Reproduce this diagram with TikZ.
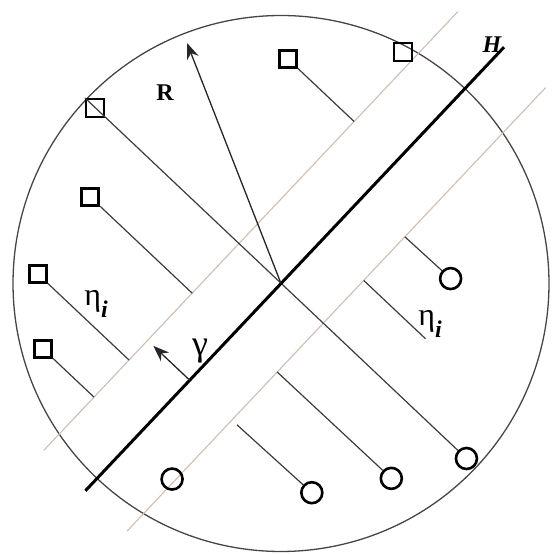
\documentclass[tikz,border=0pt]{standalone}
\usepackage{fontspec}
\setmainfont{Liberation Serif}
\usetikzlibrary{arrows.meta}
\definecolor{margin}{RGB}{210,188,175}
\definecolor{perpc}{RGB}{60,60,60}
\definecolor{rimc}{RGB}{70,70,70}
\newcommand{\subi}{\raisebox{-0.38em}{\fontsize{24}{26}\selectfont\bfseries\itshape i}}
\tikzset{
  sqbold/.style={draw=black, line width=2.8pt, shape=rectangle, minimum size=17pt, inner sep=0pt},
  sqthin/.style={draw=black, line width=1.5pt, shape=rectangle, minimum size=18pt, inner sep=0pt},
  cir/.style={draw=black, line width=2.6pt, shape=circle, minimum size=21pt, inner sep=0pt},
  perp/.style={draw=perpc, line width=1.2pt},
  marg/.style={draw=margin, line width=1.1pt},
  hyper/.style={draw=black, line width=3pt},
  rim/.style={draw=rimc, line width=1.3pt},
  arr/.style={draw=black!85, line width=1.3pt, -{Stealth[length=16pt,width=12pt]}},
  lbl/.style={inner sep=0pt},
  greek/.style={lbl, font=\fontsize{32}{34}\selectfont}
}
\begin{document}
\begin{tikzpicture}[x=1pt,y=1pt]
\useasboundingbox (0,0) rectangle (552,554);
\begin{scope}[shift={(281,270.5)}, rotate=46.66]
  \coordinate (O) at (0,0);
  \draw[rim] (O) circle[radius=268pt];
  % margins and hyperplane
  \coordinate (u1) at (-284,58); \coordinate (u2) at (319,58);
  \coordinate (l1) at (-286,-58); \coordinate (l2) at (324,-58);
  \coordinate (h1) at (-285,0); \coordinate (h2) at (325,0);
  \draw[marg] (u1) -- (u2);
  \draw[marg] (l1) -- (l2);
  % squares
  \node[sqthin] (s1) at (0,256) {};
  \node[sqbold] (s2) at (168,149) {};
  \node[sqthin] (s3) at (252,70) {};
  \node[sqbold] (s4) at (-68,198) {};
  \node[sqbold] (s5) at (-160,183) {};
  \node[sqbold] (s6) at (-211,128) {};
  % circles
  \node[cir] (c1) at (120,-120) {};
  \node[cir] (c3) at (0,-255) {};
  \node[cir] (c4) at (-66,-214) {};
  \node[cir] (c5) at (-131,-166) {};
  \node[cir] (c6) at (-217,-55) {};
  % foot points on the margins
  \coordinate (m2) at (168,58);
  \coordinate (m4) at (-68,58);
  \coordinate (m5) at (-160,58);
  \coordinate (m6) at (-211,58);
  \coordinate (n1) at (119,-58);
  \coordinate (e1) at (59,-58); \coordinate (e2) at (59,-143);
  \coordinate (n4) at (-67,-58);
  \coordinate (n5) at (-133,-65);
  \coordinate (g1) at (-133,0); \coordinate (g2) at (-133,50);
  \draw[perp] (s1.north west) -- (c3);
  \draw[perp] (s2) -- (m2);
  \draw[perp] (s4) -- (m4);
  \draw[perp] (s5) -- (m5);
  \draw[perp] (s6) -- (m6);
  \draw[perp] (n1) -- (c1);
  \draw[perp] (e1) -- (e2);
  \draw[perp] (n4) -- (c4);
  \draw[perp] (n5) -- (c5);
  \draw[hyper] (h1) -- (h2);
  \draw[arr] (g1) -- (g2);
\end{scope}
\coordinate (rtip) at (187,511);
\draw[arr] (O) -- (rtip);
\node[lbl, font=\fontsize{24}{26}\selectfont\bfseries] (lblR) at (165,461) {R};
\node[lbl, font=\fontsize{24}{26}\selectfont\bfseries\itshape] (lblH) at (492,509) {H};
\node[greek] (eta1) at (96,250) {η\subi};
\node[greek] (eta2) at (430,230) {η\subi};
\node[lbl, font=\fontsize{36}{38}\selectfont] (gam) at (200,203) {γ};
\end{tikzpicture}
\end{document}
